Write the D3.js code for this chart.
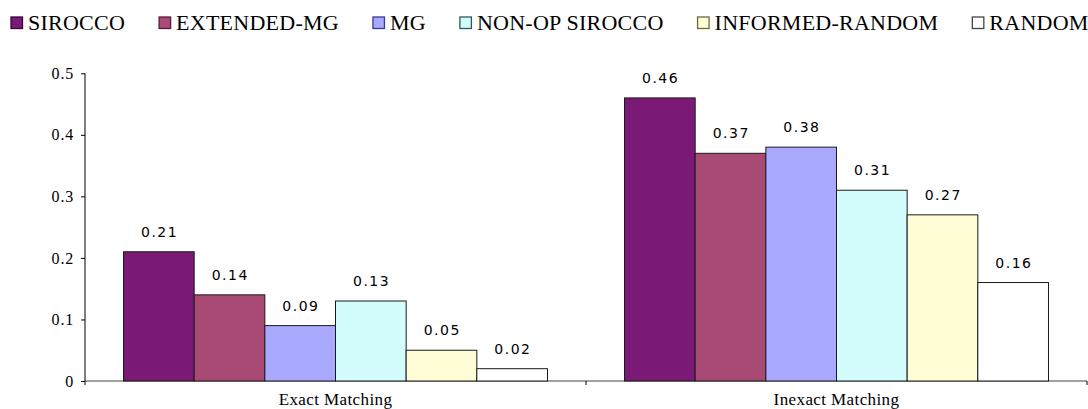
<!DOCTYPE html>
<html>
<head>
<meta charset="utf-8">
<script src="https://d3js.org/d3.v7.min.js"></script>
<style>
body { margin: 0; background: #fff; }
svg { display: block; }
</style>
</head>
<body>
<div id="chart"></div>
<script>
// data
var groups = ["Exact Matching", "Inexact Matching"];
var series = ["SIROCCO", "EXTENDED-MG", "MG", "NON-OP SIROCCO", "INFORMED-RANDOM", "RANDOM"];
var exact = [0.21, 0.14, 0.09, 0.13, 0.05, 0.02];
var inexact = [0.46, 0.37, 0.38, 0.31, 0.27, 0.16];
var colors = ["#7a1a76", "#a84a74", "#a9aaff", "#d3fcfd", "#fefdd6", "#ffffff"];
var borders = ["#3a0838", "#5a1a3a", "#3a3a9a", "#2a5a5a", "#6a6a3a", "#444444"];
var yTicks = [0, 0.1, 0.2, 0.3, 0.4, 0.5];

var values = [exact, inexact];

var serif = "'Liberation Serif', 'Times New Roman', Times, serif";
var sans = "'DejaVu Sans', Verdana, sans-serif";

var width = 1088, height = 409;
var mLeft = 85, mRight = 1087, yBottom = 381, yTop = 73.3;

var svg = d3.select("#chart").append("svg")
    .attr("width", width)
    .attr("height", height);

var y = d3.scaleLinear().domain([0, 0.5]).range([yBottom, yTop]);

var x0 = d3.scaleBand().domain(groups).range([mLeft, mRight]).padding(0);

var x1 = d3.scaleBand().domain(series).range([0, x0.bandwidth()])
    .paddingInner(0).paddingOuter(0.545);

var color = d3.scaleOrdinal().domain(series).range(colors);

// x axis line (gray)
svg.append("line")
  .attr("x1", mLeft).attr("x2", mRight)
  .attr("y1", yBottom).attr("y2", yBottom)
  .attr("stroke", "#808080")
  .attr("stroke-width", 1.5);

// x axis ticks at group boundaries
var bounds = groups.map(function(g) { return x0(g); }).concat([mRight]);
svg.selectAll(".xt").data(bounds).enter().append("line")
  .attr("class", "xt")
  .attr("x1", function(d) { return d; }).attr("x2", function(d) { return d; })
  .attr("y1", yBottom).attr("y2", yBottom + 4)
  .attr("stroke", "#000");

// bars
var g = svg.selectAll(".grp").data(groups).enter().append("g")
  .attr("class", "grp")
  .attr("transform", function(d) { return "translate(" + x0(d) + ",0)"; });

function rows(d, i) {
  return series.map(function(s, j) { return {s: s, v: values[i][j]}; });
}

g.selectAll("rect")
  .data(rows)
  .enter().append("rect")
  .attr("x", function(d) { return x1(d.s); })
  .attr("y", function(d) { return y(d.v); })
  .attr("width", x1.bandwidth())
  .attr("height", function(d) { return yBottom - y(d.v); })
  .attr("fill", function(d) { return color(d.s); })
  .attr("stroke", "#1a1a1a")
  .attr("stroke-width", 1);

g.selectAll(".val")
  .data(rows)
  .enter().append("text")
  .attr("class", "val")
  .attr("x", function(d) { return x1(d.s) + x1.bandwidth() / 2 + 0.75; })
  .attr("y", function(d) { return y(d.v) - 15; })
  .attr("text-anchor", "middle")
  .style("font-family", sans)
  .style("font-size", "14px")
  .style("letter-spacing", "1.5px")
  .style("fill", "#000")
  .text(function(d) { return d3.format(".2f")(d.v); });

// category labels
svg.selectAll(".cat").data(groups).enter().append("text")
  .attr("class", "cat")
  .attr("x", function(d) { return x0(d) + x0.bandwidth() / 2; })
  .attr("y", 405)
  .attr("text-anchor", "middle")
  .style("font-family", serif)
  .style("font-size", "17px")
  .style("letter-spacing", "0.4px")
  .text(function(d) { return d; });

// y axis
var yAxis = d3.axisLeft(y)
  .tickValues(yTicks)
  .tickSize(4)
  .tickPadding(7)
  .tickFormat(function(d) { return d === 0 ? "0" : d3.format(".1f")(d); });

var ya = svg.append("g")
  .attr("transform", "translate(" + mLeft + ",0)")
  .call(yAxis);
ya.select(".domain").attr("stroke", "#000").attr("d", "M0," + yTop + "V" + yBottom);
ya.selectAll(".tick line").attr("stroke", "#000");
ya.selectAll(".tick text")
  .style("font-family", serif)
  .style("font-size", "16px")
  .style("letter-spacing", "0.8px")
  .style("fill", "#000");

// legend
var legend = svg.append("g");
var lx = 11;
series.forEach(function(s, i) {
  var item = legend.append("g");
  item.append("rect")
    .attr("x", lx).attr("y", 17)
    .attr("width", 11.5).attr("height", 11.5)
    .attr("fill", colors[i])
    .attr("stroke", borders[i])
    .attr("stroke-width", 1.3);
  var t = item.append("text")
    .attr("x", lx + 17)
    .attr("y", 29.5)
    .style("font-family", serif)
    .style("font-size", "22px")
    .style("letter-spacing", "0.25px")
    .style("fill", "#000")
    .text(s);
  lx = lx + 17 + t.node().getComputedTextLength() + 34;
});
</script>
</body>
</html>
